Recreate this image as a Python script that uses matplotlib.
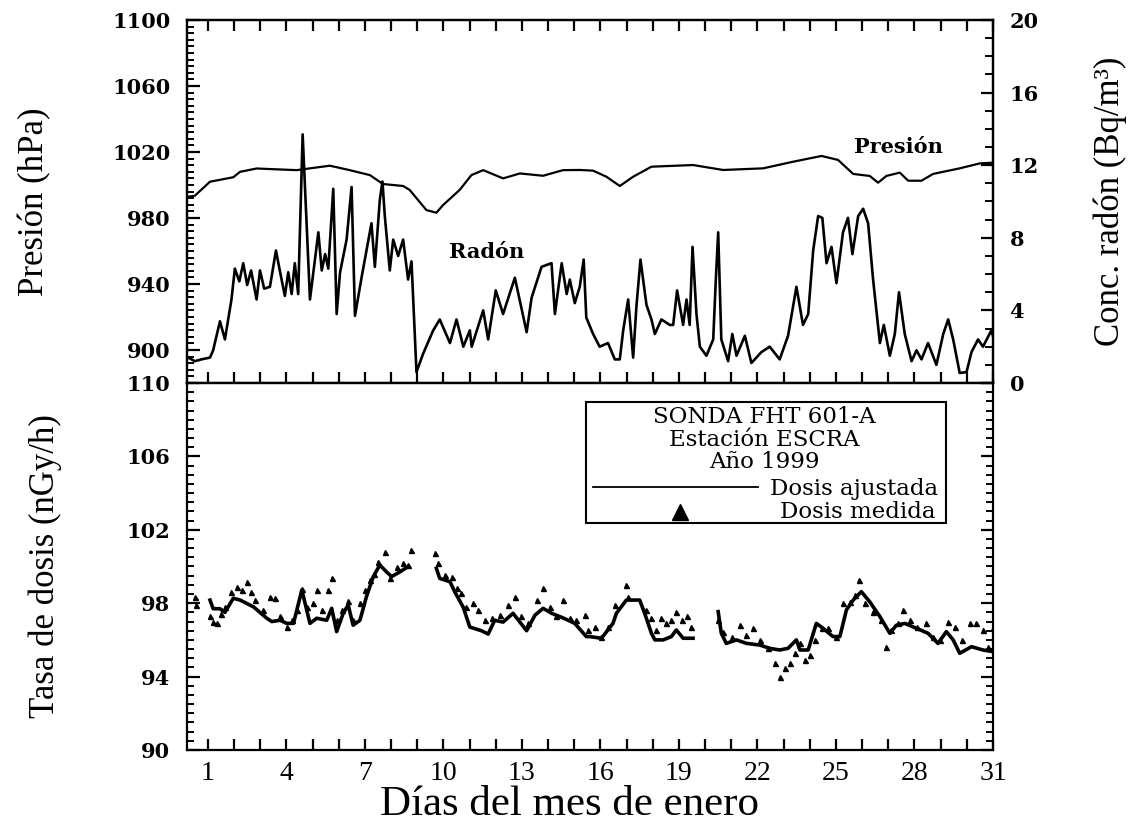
import numpy as np
import matplotlib
matplotlib.use("Agg")
import matplotlib.pyplot as plt
from matplotlib.ticker import MultipleLocator, FixedLocator
from matplotlib.lines import Line2D
from matplotlib.patches import Rectangle

# --- datos (dia del mes, valor) ---
radon_day = [0.25, 0.5, 0.75, 1.08, 1.2, 1.46, 1.65, 1.9, 2.03, 2.2, 2.35, 2.5, 2.65, 2.86,
             2.99, 3.15, 3.37, 3.6, 3.76, 3.94, 4.07, 4.2, 4.32, 4.45, 4.62, 4.9, 5.22, 5.35,
             5.48, 5.6, 5.79, 5.92, 6.05, 6.3, 6.49, 6.62, 6.87, 7.06, 7.25, 7.38, 7.57, 7.67,
             7.76, 7.95, 8.08, 8.27, 8.46, 8.65, 8.78, 8.97, 9.22, 9.61, 9.86, 10.25, 10.5,
             10.76, 11.01, 11.08, 11.52, 11.71, 12.0, 12.28, 12.73, 13.18, 13.37, 13.75, 14.13,
             14.26, 14.52, 14.71, 14.83, 15.02, 15.21, 15.36, 15.46, 15.72, 15.97, 16.29, 16.55,
             16.74, 16.87, 17.06, 17.25, 17.38, 17.53, 17.76, 17.95, 18.08, 18.33, 18.65, 18.78,
             18.93, 19.16, 19.29, 19.41, 19.52, 19.67, 19.8, 20.05, 20.31, 20.41, 20.5, 20.62,
             20.88, 21.04, 21.2, 21.52, 21.77, 22.15, 22.47, 22.85, 23.17, 23.49, 23.74, 23.94,
             24.13, 24.32, 24.48, 24.64, 24.83, 25.02, 25.27, 25.46, 25.63, 25.85, 26.04, 26.23,
             26.42, 26.68, 26.83, 27.06, 27.25, 27.41, 27.63, 27.89, 28.08, 28.27, 28.52, 28.84,
             29.1, 29.29, 29.48, 29.73, 29.99, 30.18, 30.43, 30.62, 30.94, 31.0]
radon_val = [1.4, 1.2, 1.3, 1.4, 1.8, 3.4, 2.4, 4.6, 6.3, 5.6, 6.6, 5.4, 6.2, 4.6,
             6.2, 5.2, 5.3, 7.3, 6.1, 4.8, 6.1, 4.9, 6.6, 4.9, 13.7, 4.6, 8.3, 6.2,
             7.1, 6.3, 10.7, 3.8, 6.1, 7.9, 10.8, 3.7, 5.8, 7.3, 8.8, 6.4, 10.1, 11.1,
             9.2, 6.2, 7.9, 7.0, 7.9, 5.7, 6.7, 0.6, 1.6, 2.9, 3.5, 2.2, 3.5,
             2.0, 2.9, 2.0, 4.0, 2.4, 5.1, 3.8, 5.8, 2.8, 4.7, 6.4, 6.6,
             3.8, 6.6, 4.9, 5.7, 4.4, 5.3, 6.8, 3.6, 2.7, 2.0, 2.2, 1.3,
             1.3, 2.9, 4.6, 1.4, 4.3, 6.8, 4.3, 3.5, 2.7, 3.5, 3.2, 3.2,
             5.1, 3.2, 4.6, 3.2, 7.5, 3.8, 2.0, 1.5, 2.4, 5.7, 8.3, 2.4,
             1.2, 2.7, 1.5, 2.6, 1.1, 1.7, 2.0, 1.3, 2.6, 5.3, 3.2, 3.8,
             7.3, 9.2, 9.1, 6.6, 7.5, 5.5, 8.3, 9.1, 7.1, 9.2, 9.6, 8.8,
             5.7, 2.2, 3.2, 1.5, 2.7, 5.0, 2.7, 1.2, 1.8, 1.3, 2.2, 1.0,
             2.7, 3.5, 2.4, 0.55, 0.6, 1.7, 2.4, 2.0, 2.9, 2.6]

pres_day = [0.25, 0.5, 1.08, 1.97, 2.23, 2.86, 4.39, 5.66, 6.42, 7.19, 7.69, 8.46, 8.71,
            9.35, 9.73, 9.99, 10.62, 11.07, 11.52, 12.28, 12.92, 13.81, 14.57, 15.21, 15.72,
            16.23, 16.74, 17.25, 17.95, 19.54, 20.69, 22.22, 23.36, 24.45, 25.08, 25.66,
            26.29, 26.61, 26.93, 27.44, 27.76, 28.27, 28.71, 29.73, 30.5, 31.0]
pres_val = [992.9, 993.5, 1002, 1004.7, 1008, 1010, 1009, 1011.7, 1009, 1006, 1000.6, 999.4, 997,
            984.8, 983.2, 987.9, 997, 1006, 1009, 1004, 1007, 1005.6, 1009, 1009.1, 1008.7,
            1005, 999.4, 1005, 1011.1, 1012.1, 1009.1, 1010.1, 1014.1, 1017.6, 1015.2, 1006.7,
            1005.5, 1001.4, 1005.5, 1007.5, 1002.6, 1002.6, 1006.7, 1010.1, 1013.1, 1013.5]

# dosis ajustada (nan = sin datos)
ajus_day = [1.08, 1.2, 1.46, 1.65, 1.97, 2.23, 2.74, 3.25, 3.44, 3.76, 4.01, 4.27, 4.59, 4.9,
            5.16, 5.54, 5.73, 5.92, 6.17, 6.36, 6.55, 6.81, 7.06, 7.32, 7.57, 7.83, 8.02, 8.33,
            8.65, 9.2, 9.73, 9.86, 10.25, 10.44, 10.75, 11.01, 11.45, 11.71, 11.96, 12.28, 12.66,
            13.18, 13.5, 13.81, 14.13, 14.57, 15.02, 15.46, 15.59, 16.04, 16.48, 16.61, 16.99,
            17.5, 17.69, 17.95, 18.08, 18.4, 18.71, 18.9, 19.16, 19.54, 20.0, 20.5, 20.62, 20.81,
            21.2, 21.58, 22.09, 22.47, 22.85, 23.17, 23.49, 23.62, 23.94, 24.25, 24.51, 24.89,
            25.15, 25.4, 25.66, 25.97, 26.29, 26.68, 27.06, 27.31, 27.63, 28.08, 28.52, 28.9,
            29.22, 29.48, 29.73, 30.18, 30.62, 31.0]
ajus_val = [98.17, 97.7, 97.7, 97.5, 98.27, 98.17, 97.8, 97.18, 97.0, 97.07, 96.9, 96.9, 98.72, 96.9,
            97.18, 97.07, 97.72, 96.45, 97.45, 97.9, 96.8, 97.07, 98.36, 99.45, 100.08, 99.7, 99.45, 99.7,
            99.99, np.nan, 99.9, 99.35, 99.17, 98.6, 97.8, 96.7, 96.5, 96.32, 97.07, 96.97, 97.45,
            96.5, 97.35, 97.72, 97.45, 97.2, 96.9, 96.18, 96.18, 96.09, 96.9, 97.45, 98.17,
            98.17, 97.45, 96.36, 96.0, 96.0, 96.18, 96.54, 96.09, 96.09, np.nan, 97.54, 96.36, 95.81,
            96.0, 95.81, 95.72, 95.54, 95.45, 95.54, 96.0, 95.45, 95.45, 96.9, 96.63, 96.18,
            96.18, 97.63, 98.17, 98.63, 98.08, 97.27, 96.36, 96.8, 96.9, 96.63, 96.36, 95.81,
            96.45, 96.0, 95.27, 95.63, 95.45, 95.36]

medi_day = [0.5, 0.55, 1.08, 1.2, 1.33, 1.5, 1.65, 1.9, 2.1, 2.3, 2.48, 2.65, 2.8, 3.12, 3.37,
            3.57, 3.76, 4.01, 4.2, 4.39, 4.59, 4.78, 5.03, 5.16, 5.35, 5.6, 5.73, 5.92, 6.11,
            6.36, 6.55, 6.81, 7.0, 7.19, 7.35, 7.51, 7.76, 7.95, 8.21, 8.46, 8.65, 8.78,
            9.67, 9.8, 10.06, 10.31, 10.5, 10.69, 10.88, 11.14, 11.33, 11.58, 11.84, 12.15,
            12.47, 12.73, 12.98, 13.24, 13.56, 13.81, 14.07, 14.32, 14.57, 14.83, 15.08, 15.4,
            15.53, 15.78, 16.04, 16.29, 16.55, 16.99, 17.06, 17.76, 17.95, 18.14, 18.33, 18.52,
            18.71, 18.9, 19.1, 19.29, 19.48, 20.5, 20.69, 21.01, 21.32, 21.58, 21.83, 22.09,
            22.41, 22.66, 22.85, 23.04, 23.24, 23.43, 23.62, 23.81, 24.0, 24.19, 24.45, 24.7,
            25.02, 25.27, 25.53, 25.72, 25.88, 26.1, 26.42, 26.74, 26.93, 27.12, 27.38, 27.57,
            27.82, 28.08, 28.46, 28.71, 28.97, 29.29, 29.54, 29.8, 30.12, 30.37, 30.62, 30.81, 31.0]
medi_val = [98.36, 97.9, 97.3, 97.0, 96.9, 97.4, 97.8, 98.6, 98.9, 98.7, 99.17, 98.6, 98.17, 97.63, 98.36,
            98.27, 97.3, 96.7, 97.1, 97.63, 98.8, 97.8, 98.0, 98.72, 97.63, 98.72, 99.35, 97.1, 97.63,
            98.1, 97.1, 98.0, 98.72, 99.27, 99.6, 100.26, 100.8, 99.35, 99.99, 100.17, 100.08, 100.9,
            100.72, 100.17, 99.54, 99.45, 98.81, 98.54, 97.8, 98.0, 97.63, 97.1, 97.18, 97.36,
            97.9, 98.36, 97.3, 96.9, 98.17, 98.81, 97.8, 97.3, 98.17, 97.2, 97.1, 97.36,
            96.54, 96.72, 96.18, 96.72, 97.9, 98.99, 98.36, 97.63, 97.18, 96.54, 97.18, 96.9,
            97.1, 97.54, 97.1, 97.3, 96.72, 97.1, 96.45, 96.18, 96.8, 96.27, 96.63, 96.0,
            95.54, 94.72, 93.99, 94.45, 94.72, 95.27, 95.81, 94.9, 95.18, 96.0, 96.63, 96.63,
            96.18, 98.0, 98.08, 98.45, 99.26, 98.0, 97.54, 97.1, 95.63, 96.54, 96.9, 97.63,
            97.1, 96.72, 96.9, 96.18, 96.0, 97.0, 96.72, 96.0, 96.9, 96.9, 96.54, 95.63, 96.63]

dias_ticks = [1, 4, 7, 10, 13, 16, 19, 22, 25, 28, 31]
pres_ticks = [900, 940, 980, 1020, 1060, 1100]
dosis_ticks = [90, 94, 98, 102, 106, 110]

fs_tick = dict(family="DejaVu Serif", weight="bold", size=15)
fs_lab = dict(family="Liberation Serif", size=25)

fig = plt.figure(figsize=(11.45, 8.27), dpi=100)
ax1 = fig.add_axes([0.1633, 0.5369, 0.7039, 0.4389])
ax2 = fig.add_axes([0.1633, 0.0931, 0.7039, 0.4438], sharex=ax1)
ax1r = ax1.twinx()

ax1.plot(pres_day, pres_val, color="black", lw=1.6)
ax1r.plot(radon_day, radon_val, color="black", lw=1.9)
ax2.plot(ajus_day, ajus_val, color="black", lw=2.6)
ax2.plot(medi_day, medi_val, ls="none", marker="^", ms=3.6, color="black")

ax1.set_xlim(0.2, 31.0)
ax1.set_ylim(880, 1100)
ax1r.set_ylim(0, 20)
ax2.set_ylim(90, 110)

for a in (ax1, ax2, ax1r):
    for s in a.spines.values():
        s.set_linewidth(1.6)

ax1.xaxis.set_major_locator(FixedLocator(dias_ticks))
ax1.xaxis.set_minor_locator(MultipleLocator(1))
ax1.yaxis.set_major_locator(FixedLocator(pres_ticks))
ax1.yaxis.set_minor_locator(MultipleLocator(4))
ax1r.yaxis.set_major_locator(MultipleLocator(4))
ax1r.yaxis.set_minor_locator(MultipleLocator(1))
ax2.yaxis.set_major_locator(FixedLocator(dosis_ticks))
ax2.yaxis.set_minor_locator(MultipleLocator(0.5))

ax1.tick_params(axis="x", which="both", direction="in", top=True, bottom=True,
                labelbottom=False, length=8, width=1.6)
ax1.tick_params(axis="y", which="major", direction="in", length=9, width=1.6, pad=12)
ax1.tick_params(axis="y", which="minor", direction="in", length=5, width=1.4)
ax1r.tick_params(axis="y", which="major", direction="in", length=9, width=1.6, pad=12)
ax1r.tick_params(axis="y", which="minor", direction="in", length=6, width=1.4)
ax2.tick_params(axis="x", which="both", direction="in", top=False, bottom=True,
                length=8, width=1.6, pad=8)
ax2.tick_params(axis="y", which="major", direction="in", right=True, length=9, width=1.6, pad=12)
ax2.tick_params(axis="y", which="minor", direction="in", right=True, length=5, width=1.4)

for lab in ax1.get_yticklabels() + ax1r.get_yticklabels() + ax2.get_yticklabels():
    lab.set(**fs_tick)
for lab in ax2.get_xticklabels():
    lab.set(family="Liberation Serif", size=20)

ax1.set_ylabel("Presión (hPa)", va="center", **fs_lab)
ax1.yaxis.set_label_coords(-0.189, 0.5)
ax1r.set_ylabel("Conc. radón (Bq/m³)", va="center", **fs_lab)
ax1r.yaxis.set_label_coords(1.145, 0.5)
ax2.set_ylabel("Tasa de dosis (nGy/h)", va="center", **fs_lab)
ax2.yaxis.set_label_coords(-0.176, 0.5)
ax2.set_xlabel("Días del mes de enero", family="Liberation Serif", size=31, va="baseline")
ax2.xaxis.set_label_coords(0.475, -0.178)

ax1.text(27.4, 1023, "Presión", ha="center", va="center", family="DejaVu Serif",
         weight="bold", size=15)
ax1.text(11.66, 959.5, "Radón", ha="center", va="center", family="DejaVu Serif",
         weight="bold", size=15)

# cuadro de leyenda
ax2.add_patch(Rectangle((0.495, 0.619), 0.447, 0.329, transform=ax2.transAxes,
                        fill=False, ec="black", lw=1.5))
fl = dict(family="DejaVu Serif", size=16.5, transform=ax2.transAxes)
ax2.text(0.716, 0.906, "SONDA FHT 601-A", ha="center", va="center", **fl)
ax2.text(0.716, 0.846, "Estación ESCRA", ha="center", va="center", **fl)
ax2.text(0.716, 0.784, "Año 1999", ha="center", va="center", **fl)
ax2.add_line(Line2D([0.504, 0.709], [0.717, 0.717], transform=ax2.transAxes, color="black", lw=1.3))
ax2.text(0.724, 0.712, "Dosis ajustada", ha="left", va="center", **fl)
ax2.plot([0.612], [0.648], marker="^", ms=11, color="black", transform=ax2.transAxes)
ax2.text(0.736, 0.648, "Dosis medida", ha="left", va="center", **fl)

fig.savefig("out.png", dpi=100)
